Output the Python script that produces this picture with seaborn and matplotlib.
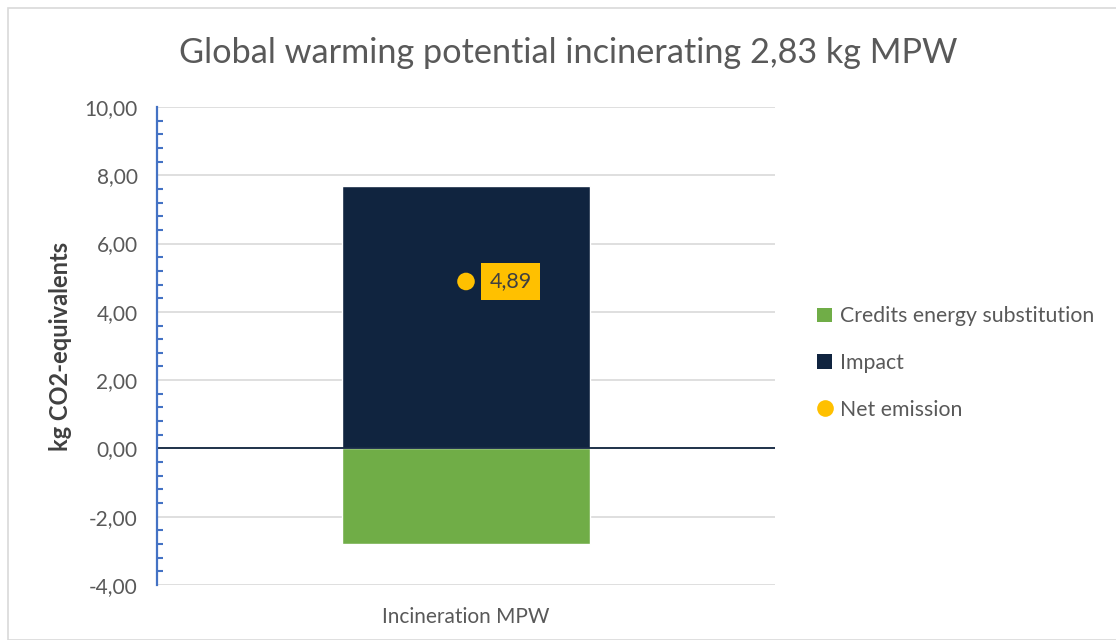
import matplotlib
matplotlib.use("Agg")
import matplotlib.pyplot as plt
import seaborn as sns
import pandas as pd
from matplotlib.patches import Rectangle
from matplotlib.ticker import MultipleLocator, FuncFormatter
from matplotlib.lines import Line2D

# Values (kg CO2-equivalents)
categories = ["Incineration MPW"]
credits = [-2.79]
impact = [7.68]
net_emission = [4.89]
series_names = ["Credits energy substitution", "Impact", "Net emission"]

sns.set_theme(style="white")
plt.rcParams["font.family"] = ["Lato", "DejaVu Sans"]

GREEN = "#70AD47"
NAVY = "#10243F"
GOLD = "#FFC000"
TEXT = "#595959"
BLUE = "#4472C4"

df = pd.DataFrame({"category": categories, "credits": credits,
                   "impact": impact, "net": net_emission})

fig = plt.figure(figsize=(11.16, 6.4), dpi=100)
fig.patches.append(Rectangle((8 / 1116, 0), 1, 1 - 8 / 640, transform=fig.transFigure,
                             fill=False, edgecolor="#D9D9D9", linewidth=1.2, zorder=0))
ax = fig.add_axes([157 / 1116, 1 - 585 / 640, 618 / 1116, 478 / 640])

# Stacked column: positive impact above zero, negative credits below
sns.barplot(data=df, x="category", y="impact", color=NAVY, width=0.4,
            saturation=1, ax=ax, zorder=2)
sns.barplot(data=df, x="category", y="credits", color=GREEN, width=0.4,
            saturation=1, ax=ax, zorder=2)
sns.scatterplot(data=df, x="category", y="net", color=GOLD, s=160,
                edgecolor="none", ax=ax, zorder=4)

for c, v in zip(df["category"], df["net"]):
    ax.annotate(f"{v:.2f}".replace(".", ","), xy=(c, v), xytext=(17, 0),
                textcoords="offset points", ha="left", va="center",
                fontsize=15.5, color="#404040", zorder=5,
                bbox=dict(boxstyle="square,pad=0.38", facecolor=GOLD, edgecolor="none"))

ax.set_xlim(-0.5, 0.5)
ax.set_ylim(-4, 10)
ax.yaxis.set_major_locator(MultipleLocator(2))
ax.yaxis.set_minor_locator(MultipleLocator(0.4))
ax.yaxis.set_major_formatter(FuncFormatter(lambda v, p: f"{v:.2f}".replace(".", ",")))
ax.grid(axis="y", which="major", color="#D9D9D9", linewidth=1.2, zorder=0)
ax.set_axisbelow(True)
ax.axhline(0, color=NAVY, linewidth=1.3, zorder=3)

for s in ["top", "right", "bottom"]:
    ax.spines[s].set_visible(False)
ax.spines["left"].set_color(BLUE)
ax.spines["left"].set_linewidth(1.6)
ax.spines["left"].set_zorder(5)

ax.tick_params(axis="y", which="major", direction="inout", length=10, width=1.6,
               color=BLUE, labelsize=15, labelcolor=TEXT, pad=9)
ax.tick_params(axis="y", which="minor", direction="in", length=4.5, width=1.5,
               color=BLUE, left=True)
ax.tick_params(axis="x", length=0, labelsize=15, labelcolor=TEXT, pad=16)

ax.set_xlabel("")
ax.set_ylabel("kg CO2-equivalents", fontsize=17, fontweight="bold", color="#404040",
              labelpad=9)
fig.suptitle("Global warming potential incinerating 2,83 kg MPW", x=568 / 1116,
             y=1 - 53 / 640, va="center", fontsize=24.7, color=TEXT)

handles = [
    Rectangle((0, 0), 1, 1, facecolor=GREEN, edgecolor="none"),
    Rectangle((0, 0), 1, 1, facecolor=NAVY, edgecolor="none"),
    Line2D([], [], marker="o", linestyle="none", markersize=12,
           markerfacecolor=GOLD, markeredgecolor="none"),
]
fig.legend(handles, series_names, loc="center left",
           bbox_to_anchor=(798 / 1116, 1 - 363 / 640), frameon=False,
           fontsize=15.3, labelcolor=TEXT, handlelength=0.7, handleheight=0.7,
           handletextpad=0.4, labelspacing=1.25)

fig.savefig("out.png", dpi=100)
